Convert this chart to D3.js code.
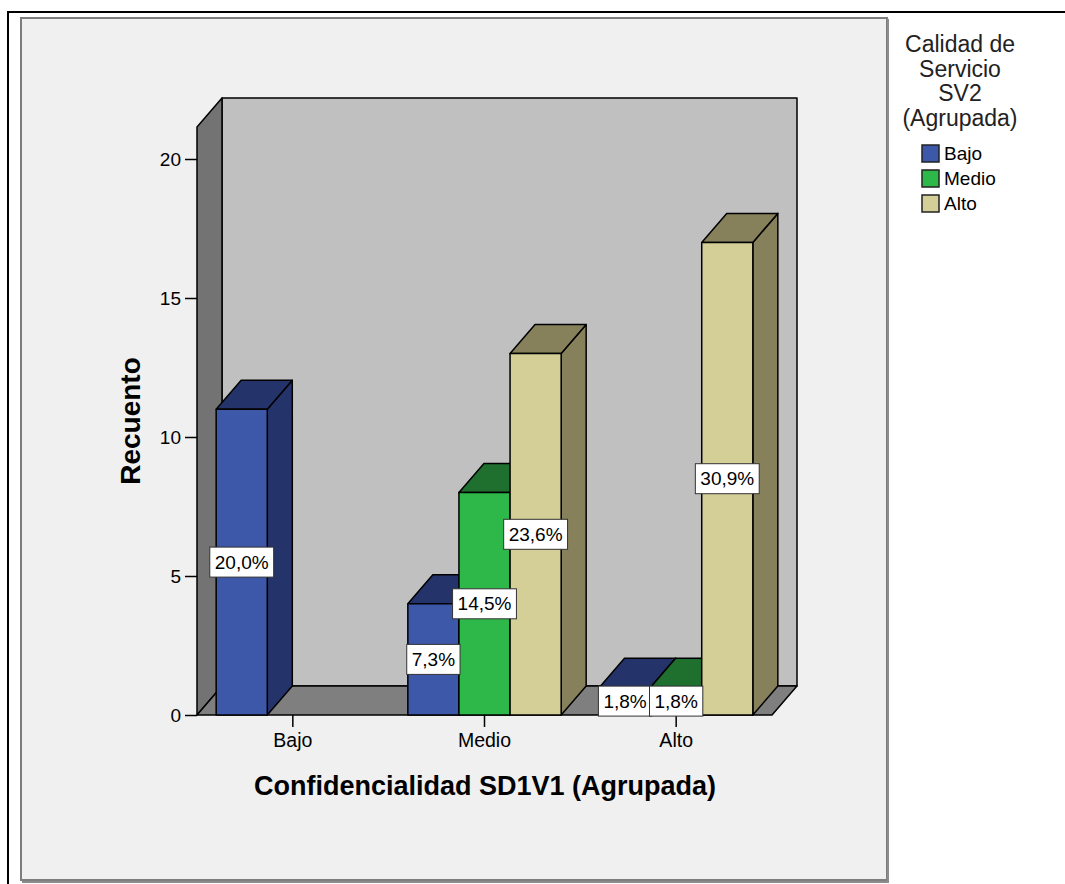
<!DOCTYPE html>
<html>
<head>
<meta charset="utf-8">
<script src="https://cdn.jsdelivr.net/npm/d3@7"></script>
<style>
  html, body { margin: 0; padding: 0; background: #ffffff; }
  svg { display: block; font-family: "Liberation Sans", Arial, sans-serif; }
</style>
</head>
<body>
<svg id="chart" width="1065" height="884"></svg>
<script>
// Categories on the x axis (Confidencialidad SD1V1) and legend series (Calidad de Servicio SV2)
const categories = ["Bajo", "Medio", "Alto"];
const series = ["Bajo", "Medio", "Alto"];

// Counts per series, one value for each x category
const countsBajo  = [11, 4, 1];
const countsMedio = [0, 8, 1];
const countsAlto  = [0, 13, 17];

const yTicks = [0, 5, 10, 15, 20];

const seriesCounts = [countsBajo, countsMedio, countsAlto];
const total = d3.sum(seriesCounts.flat());

// Front / dark face colours per series
const frontColor = ["#3d57a9", "#2eb84a", "#d4cf97"];
const darkColor  = ["#24346a", "#1f6f2e", "#86815a"];

const svg = d3.select("#chart");

// Outer frame and panel
svg.append("path").attr("d", "M8,884 L8,12 L1065,12")
  .attr("fill", "none").attr("stroke", "#000").attr("stroke-width", 2);
svg.append("rect").attr("x", 21).attr("y", 18).attr("width", 866).attr("height", 862)
  .attr("fill", "#f0f0f0").attr("stroke", "#7d7d7d").attr("stroke-width", 2);
svg.append("path").attr("d", "M888,19 L888,882 L22,882")
  .attr("fill", "none").attr("stroke", "#8c8c8c").attr("stroke-width", 2);

// Scales
const x0 = d3.scaleBand().domain(categories).range([197, 772]).paddingInner(0).paddingOuter(0);
const x1 = d3.scaleBand().domain(series).range([0, x0.bandwidth()]).paddingInner(0).paddingOuter(0.375);
const y = d3.scaleLinear().domain([0, 20]).range([715, 159]);

const dx = 25, dy = -29;          // depth offset of the 3D box
const wallTop = y(21.15);
const xLeft = x0.range()[0], xRight = x0.range()[1];
const yBase = y(0);

const g = svg.append("g");
const edge = sel => sel.attr("stroke", "#000").attr("stroke-width", 1.5).attr("stroke-linejoin", "round");
const poly = pts => "M" + pts.map(p => p.join(",")).join("L") + "Z";

// Back wall
g.append("path").attr("d", poly([[xLeft + dx, wallTop + dy], [xRight + dx, wallTop + dy], [xRight + dx, yBase + dy], [xLeft + dx, yBase + dy]]))
  .attr("fill", "#c0c0c0").call(edge);
// Left wall
g.append("path").attr("d", poly([[xLeft, yBase], [xLeft, wallTop], [xLeft + dx, wallTop + dy], [xLeft + dx, yBase + dy]]))
  .attr("fill", "#737373").call(edge);
// Floor
g.append("path").attr("d", poly([[xLeft, yBase], [xRight, yBase], [xRight + dx, yBase + dy], [xLeft + dx, yBase + dy]]))
  .attr("fill", "#7f7f7f").call(edge);

// Bars (drawn left to right so neighbours overlap correctly)
const bars = [];
categories.forEach((c, ci) => {
  series.forEach((s, si) => {
    const v = seriesCounts[si][ci];
    if (v > 0) bars.push({ c, s, si, v });
  });
});

const barG = g.append("g");
bars.forEach(d => {
  const bx = x0(d.c) + x1(d.s), w = x1.bandwidth();
  const top = y(d.v), bot = y(0);
  const bg = barG.append("g");
  bg.append("path").attr("d", poly([[bx + w, bot], [bx + w, top], [bx + w + dx, top + dy], [bx + w + dx, bot + dy]]))
    .attr("fill", darkColor[d.si]).call(edge);
  bg.append("path").attr("d", poly([[bx, top], [bx + w, top], [bx + w + dx, top + dy], [bx + dx, top + dy]]))
    .attr("fill", darkColor[d.si]).call(edge);
  bg.append("rect").attr("x", bx).attr("y", top).attr("width", w).attr("height", bot - top)
    .attr("fill", frontColor[d.si]).call(edge);
});

// Axes
const yAxis = d3.axisLeft(y).tickValues(yTicks).tickSize(12).tickSizeOuter(0).tickPadding(4);
const yAx = svg.append("g").attr("transform", `translate(${xLeft},0)`).call(yAxis);
yAx.select(".domain").remove();
yAx.selectAll("line").attr("stroke", "#000").attr("stroke-width", 1.5);
yAx.selectAll("text").attr("font-size", 19).attr("fill", "#000").attr("font-family", "Liberation Sans, Arial, sans-serif");

const xAxis = d3.axisBottom(x0).tickSize(12).tickSizeOuter(0).tickPadding(6);
const xAx = svg.append("g").attr("transform", `translate(0,${yBase})`).call(xAxis);
xAx.select(".domain").remove();
xAx.selectAll("line").attr("stroke", "#000").attr("stroke-width", 1.5);
xAx.selectAll("text").attr("font-size", 19.5).attr("fill", "#000").attr("font-family", "Liberation Sans, Arial, sans-serif");

// Percentage labels
const fmt = v => d3.format(".1f")(v * 100 / total).replace(".", ",") + "%";
const labG = svg.append("g");
bars.forEach(d => {
  const bx = x0(d.c) + x1(d.s), w = x1.bandwidth();
  const cx = bx + w / 2, cy = (y(d.v) + y(0)) / 2;
  const lg = labG.append("g");
  const r = lg.append("rect").attr("fill", "#fff").attr("stroke", "#333").attr("stroke-width", 1);
  const t = lg.append("text").attr("x", cx).attr("y", cy).attr("text-anchor", "middle")
    .attr("dominant-baseline", "central").attr("font-size", 19).attr("fill", "#000").text(fmt(d.v));
  const tw = t.node().getComputedTextLength();
  r.attr("x", cx - tw / 2 - 5).attr("y", cy - 15).attr("width", tw + 10).attr("height", 30);
});

// Axis titles
svg.append("text").attr("x", 485).attr("y", 795).attr("text-anchor", "middle")
  .attr("font-size", 27).attr("font-weight", "bold").attr("fill", "#000")
  .text("Confidencialidad SD1V1 (Agrupada)");
svg.append("text").attr("transform", "translate(140,421) rotate(-90)").attr("text-anchor", "middle")
  .attr("font-size", 28).attr("font-weight", "bold").attr("fill", "#000")
  .text("Recuento");

// Legend
const legendTitle = ["Calidad de", "Servicio", "SV2", "(Agrupada)"];
svg.append("g").selectAll("text").data(legendTitle).join("text")
  .attr("x", 960).attr("y", (d, i) => 52 + i * 24.5).attr("text-anchor", "middle")
  .attr("font-size", 23).attr("fill", "#222").text(d => d);

const leg = svg.append("g").selectAll("g").data(series).join("g")
  .attr("transform", (d, i) => `translate(922,${145 + i * 25})`);
leg.append("rect").attr("width", 17).attr("height", 17)
  .attr("fill", (d, i) => frontColor[i]).attr("stroke", "#222").attr("stroke-width", 1.5);
leg.append("text").attr("x", 22).attr("y", 15).attr("font-size", 19).attr("fill", "#000").text(d => d);
</script>
</body>
</html>
